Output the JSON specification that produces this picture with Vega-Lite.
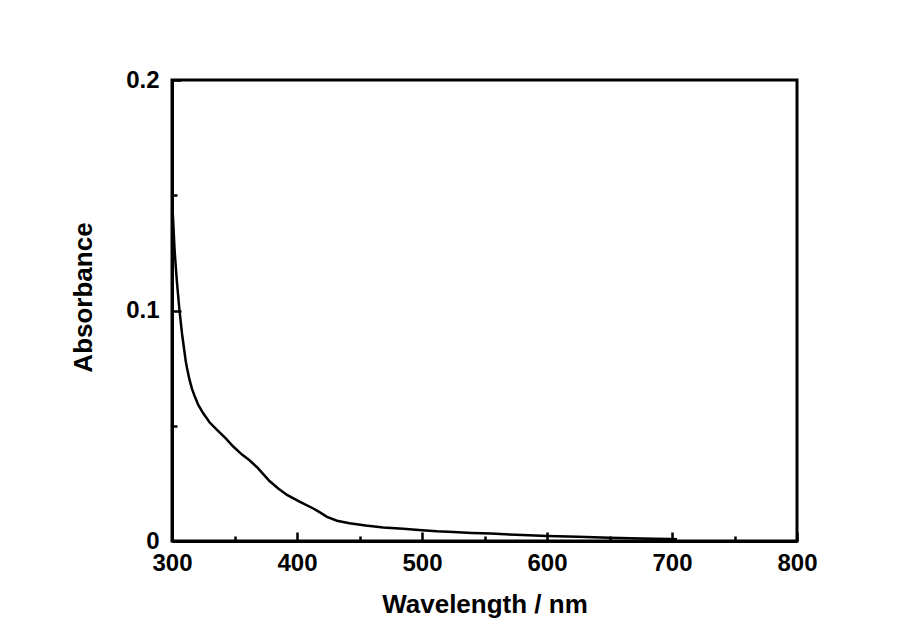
{
  "$schema": "https://vega.github.io/schema/vega-lite/v6.json",
  "autosize": {"type": "none"},
  "padding": {"left": 172, "top": 80, "right": 112, "bottom": 98},
  "width": 625,
  "height": 461,
  "background": "white",
  "config": {
    "view": {"stroke": "black", "strokeWidth": 3},
    "axis": {"labelFont": "Liberation Sans", "titleFont": "Liberation Sans", "labelFontWeight": "bold", "titleFontWeight": "bold", "labelColor": "black", "titleColor": "black", "domainColor": "black", "tickColor": "black", "grid": false}
  },
  "data": {"values": [
    {"wavelength": 300, "absorbance": 0.149},
    {"wavelength": 301, "absorbance": 0.138},
    {"wavelength": 302, "absorbance": 0.127},
    {"wavelength": 303, "absorbance": 0.119},
    {"wavelength": 304, "absorbance": 0.112},
    {"wavelength": 306, "absorbance": 0.100},
    {"wavelength": 308, "absorbance": 0.090},
    {"wavelength": 309, "absorbance": 0.086},
    {"wavelength": 311, "absorbance": 0.078},
    {"wavelength": 312, "absorbance": 0.075},
    {"wavelength": 314, "absorbance": 0.070},
    {"wavelength": 316, "absorbance": 0.066},
    {"wavelength": 318, "absorbance": 0.063},
    {"wavelength": 321, "absorbance": 0.059},
    {"wavelength": 325, "absorbance": 0.0554},
    {"wavelength": 330, "absorbance": 0.0515},
    {"wavelength": 336, "absorbance": 0.0482},
    {"wavelength": 343, "absorbance": 0.0445},
    {"wavelength": 349, "absorbance": 0.041},
    {"wavelength": 356, "absorbance": 0.0375},
    {"wavelength": 362, "absorbance": 0.035},
    {"wavelength": 368, "absorbance": 0.032},
    {"wavelength": 373, "absorbance": 0.029},
    {"wavelength": 378, "absorbance": 0.026},
    {"wavelength": 385, "absorbance": 0.0228},
    {"wavelength": 392, "absorbance": 0.020},
    {"wavelength": 402, "absorbance": 0.0171},
    {"wavelength": 413, "absorbance": 0.0141},
    {"wavelength": 418, "absorbance": 0.0125},
    {"wavelength": 424, "absorbance": 0.0105},
    {"wavelength": 432, "absorbance": 0.0088},
    {"wavelength": 442, "absorbance": 0.0077},
    {"wavelength": 455, "absorbance": 0.0067},
    {"wavelength": 469, "absorbance": 0.0059},
    {"wavelength": 485, "absorbance": 0.0053},
    {"wavelength": 500, "absorbance": 0.0047},
    {"wavelength": 512, "absorbance": 0.0042},
    {"wavelength": 525, "absorbance": 0.0039},
    {"wavelength": 540, "absorbance": 0.0035},
    {"wavelength": 555, "absorbance": 0.0032},
    {"wavelength": 575, "absorbance": 0.0027},
    {"wavelength": 600, "absorbance": 0.0022},
    {"wavelength": 625, "absorbance": 0.0018},
    {"wavelength": 650, "absorbance": 0.0014},
    {"wavelength": 675, "absorbance": 0.0011},
    {"wavelength": 698, "absorbance": 0.0009},
    {"wavelength": 704, "absorbance": 0.0008}
  ]},
  "resolve": {"scale": {"x": "shared", "y": "shared"}, "axis": {"x": "independent", "y": "independent"}},
  "layer": [
    {
      "mark": {"type": "line", "color": "black", "strokeWidth": 2.5, "clip": true},
      "encoding": {
        "x": {"field": "wavelength", "type": "quantitative",
          "scale": {"domain": [300, 800], "nice": false, "zero": false},
          "axis": {"orient": "bottom", "values": [300, 400, 500, 600, 700, 800], "tickSize": -9, "tickWidth": 2.5, "domainWidth": 3, "labelFontSize": 24, "labelPadding": 19, "labelFlush": false, "labelOverlap": false, "title": "Wavelength / nm", "titleFontSize": 26, "titlePadding": 16}},
        "y": {"field": "absorbance", "type": "quantitative",
          "scale": {"domain": [0, 0.2], "nice": false},
          "axis": {"orient": "left", "values": [0, 0.1, 0.2], "tickSize": -9, "tickWidth": 2.5, "domainWidth": 3, "labelFontSize": 24, "labelPadding": 22, "labelFlush": false, "labelOverlap": false, "labelExpr": "datum.value == 0 ? '0' : format(datum.value, '.1f')", "title": "Absorbance", "titleFontSize": 26, "titlePadding": 29, "titleY": 217}}
      }
    },
    {
      "mark": {"type": "line", "strokeOpacity": 0},
      "encoding": {
        "x": {"field": "wavelength", "type": "quantitative",
          "axis": {"orient": "bottom", "values": [350, 450, 550, 650, 750], "tickSize": -5, "tickWidth": 2.5, "domain": false, "labels": false, "title": null}},
        "y": {"field": "absorbance", "type": "quantitative",
          "axis": {"orient": "left", "values": [0.05, 0.15], "tickSize": -5, "tickWidth": 2.5, "domain": false, "labels": false, "title": null}}
      }
    }
  ]
}
